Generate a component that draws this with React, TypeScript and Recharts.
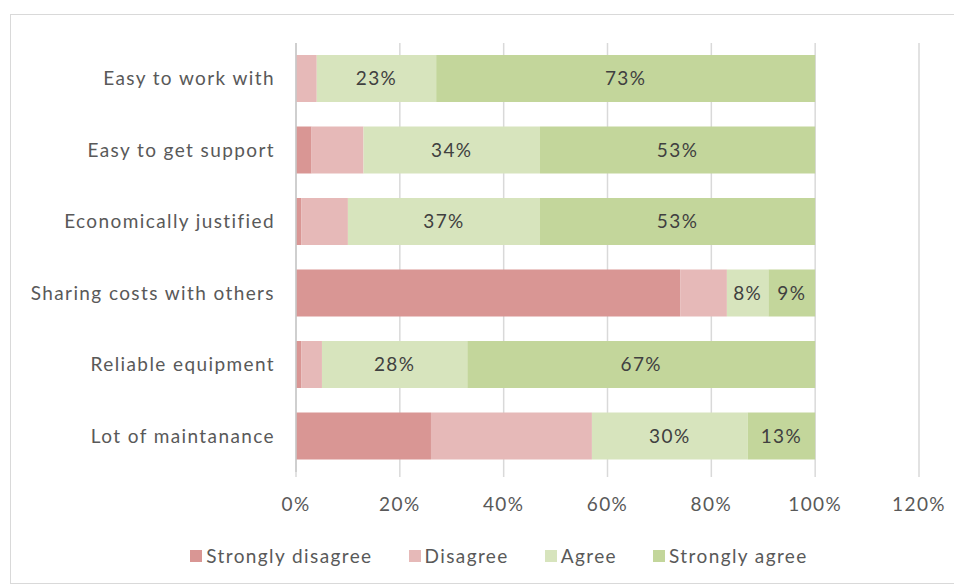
import { BarChart, Bar, XAxis, YAxis, CartesianGrid, Legend, LabelList } from "recharts";

const categories = [
  "Easy to work with",
  "Easy to get support",
  "Economically justified",
  "Sharing costs with others",
  "Reliable equipment",
  "Lot of maintanance",
];
const stronglyDisagree = [0, 0.03, 0.01, 0.74, 0.01, 0.26];
const disagree = [0.04, 0.1, 0.09, 0.09, 0.04, 0.31];
const agree = [0.23, 0.34, 0.37, 0.08, 0.28, 0.3];
const stronglyAgree = [0.73, 0.53, 0.53, 0.09, 0.67, 0.13];
const xTicks = [0, 0.2, 0.4, 0.6, 0.8, 1, 1.2];

const series = [
  { key: "sd", name: "Strongly disagree", color: "#d99694", labels: false },
  { key: "d", name: "Disagree", color: "#e6b9b8", labels: false },
  { key: "a", name: "Agree", color: "#d7e4bd", labels: true },
  { key: "sa", name: "Strongly agree", color: "#c3d69b", labels: true },
];

const data = categories.map((name, i) => ({
  name,
  sd: stronglyDisagree[i],
  d: disagree[i],
  a: agree[i],
  sa: stronglyAgree[i],
}));

const font = "Lato, 'Open Sans', sans-serif";
const pct = (v: number) => `${Math.round(v * 100)}%`;
const textStyle = { fontSize: 19, fill: "#595959", fontFamily: font, letterSpacing: 1.4 };

function LegendBox() {
  return (
    <div
      style={{
        height: 66,
        display: "flex",
        justifyContent: "center",
        alignItems: "flex-start",
        paddingTop: 27,
        boxSizing: "border-box",
        fontFamily: font,
        fontSize: 19,
        letterSpacing: 1.4,
        color: "#595959",
        position: "relative",
        left: 34,
      }}
    >
      {series.map((s, i) => (
        <div
          key={s.key}
          style={{ display: "flex", alignItems: "center", marginRight: i === series.length - 1 ? 0 : 36 }}
        >
          <span style={{ width: 12, height: 12, background: s.color, marginRight: 4, display: "inline-block" }} />
          <span>{s.name}</span>
        </div>
      ))}
    </div>
  );
}

export default function App() {
  return (
    <div
      style={{
        margin: "6px 0 0 2px",
        width: 948,
        height: 570,
        border: "1px solid #d9d9d9",
        boxSizing: "border-box",
        background: "#fff",
      }}
    >
      <BarChart
        width={946}
        height={568}
        data={data}
        layout="vertical"
        barSize={47}
        margin={{ top: 28, right: 38, left: 0, bottom: 0 }}
      >
        <CartesianGrid horizontal={false} stroke="#d9d9d9" strokeWidth={1.5} />
        <XAxis
          type="number"
          domain={[0, 1.2]}
          ticks={xTicks}
          tickFormatter={pct}
          axisLine={false}
          tickLine={{ stroke: "#d9d9d9", strokeWidth: 1.5 }}
          tickSize={5}
          tickMargin={21}
          height={45}
          tick={textStyle}
        />
        <YAxis
          type="category"
          dataKey="name"
          width={285}
          axisLine={{ stroke: "#c8c8c8", strokeWidth: 1.5 }}
          tickLine={false}
          tickSize={0}
          tickMargin={21}
          tick={textStyle}
        />
        <Legend verticalAlign="bottom" height={66} content={() => <LegendBox />} />
        {series.map((s) => (
          <Bar key={s.key} dataKey={s.key} name={s.name} stackId="x" fill={s.color} isAnimationActive={false}>
            {s.labels && (
              <LabelList
                dataKey={s.key}
                position="center"
                formatter={(v: number) => pct(v)}
                style={{ fontSize: 19, fill: "#404040", fontFamily: font, letterSpacing: 1.4 }}
              />
            )}
          </Bar>
        ))}
      </BarChart>
    </div>
  );
}
